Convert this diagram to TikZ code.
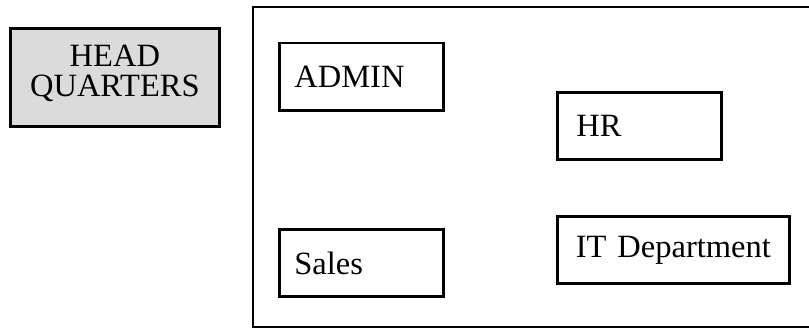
\documentclass[tikz,border=0pt]{standalone}
\usepackage{fontspec}
\setmainfont{Liberation Serif}
\usetikzlibrary{positioning}

\begin{document}
\begin{tikzpicture}
    [x=0.02cm,y=-0.02cm,line width=1.6pt,
     every node/.style={draw, rectangle, anchor=north west, inner ysep=0pt, font=\fontsize{18.5}{17}\selectfont},
     dept/.style={inner xsep=0.3cm, align=left, minimum height=1.35cm}]
  \useasboundingbox (0,0) rectangle (809,329);

  % head office
  \node[fill=gray!28, align=center, text depth=0.26cm, minimum width=4.18cm, minimum height=1.96cm] (hq) at (9,27) {HEAD\\QUARTERS};

  % branch frame, open to the right
  \draw (840,7) -- (253,7) -- (253,327) -- (840,327);

  % departments
  \node[dept, text width=2.68cm] (admin) at (278,41.5) {ADMIN};
  \node[dept, text width=2.52cm, inner xsep=0.38cm] (hr) at (556,91) {HR};
  \node[dept, text width=2.68cm] (sales) at (278,228) {Sales};
  \node[dept, text width=4.04cm, align=center] (it) at (556,215) {IT Department};
\end{tikzpicture}
\end{document}
